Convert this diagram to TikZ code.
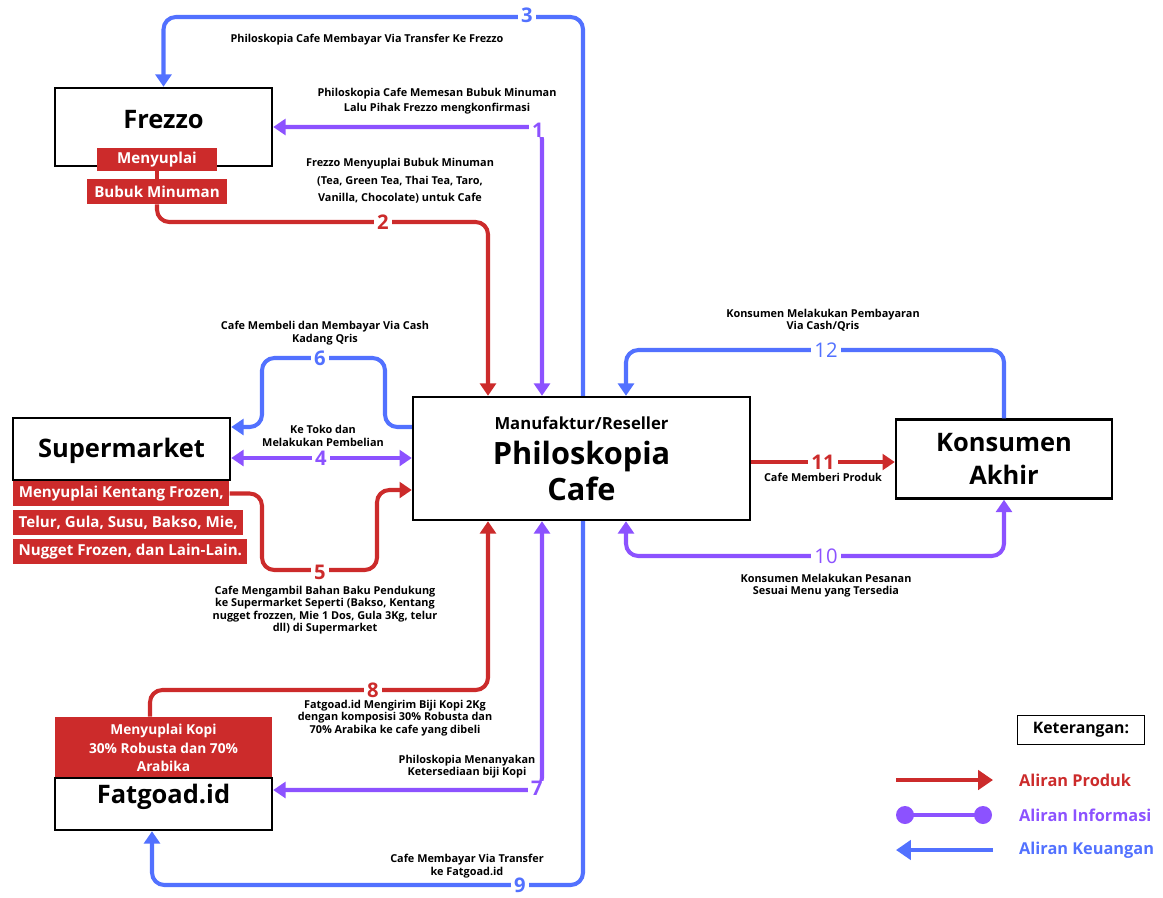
\documentclass[tikz,border=0pt]{standalone}
\usepackage{fontspec}
\setmainfont{Open Sans}
\usetikzlibrary{arrows.meta}

\definecolor{produk}{HTML}{CC2B2B}
\definecolor{info}{HTML}{8C52FF}
\definecolor{uang}{HTML}{5271FF}

\begin{document}
\begin{tikzpicture}[x=0.02cm, y=-0.02cm,
  box/.style={draw, line width=1.4pt, fill=white, inner sep=0pt},
  title/.style={font=\bfseries\fontsize{14.5}{19}\selectfont, align=center},
  tag/.style={fill=produk, text=white, font=\bfseries\fontsize{8.6}{10}\selectfont, inner sep=0pt},
  note/.style={font=\bfseries\fontsize{6.2}{7}\selectfont, align=center, inner sep=0pt},
  num/.style={font=\bfseries\fontsize{11.5}{12}\selectfont, fill=white, inner xsep=2pt, inner ysep=0pt},
  flow/.style={line width=2.3pt, rounded corners=7pt},
  prodline/.style={flow, produk, -{Triangle[width=9pt,length=7pt]}},
  infoline/.style={flow, info, {Triangle[width=9pt,length=7pt]}-{Triangle[width=9pt,length=7pt]}},
  uangline/.style={flow, uang, -{Triangle[width=9pt,length=7pt]}}]
\useasboundingbox (0,0) rectangle (1163,897);

% actors
\node (frezzo) [box, minimum width=4.34cm, minimum height=1.56cm] at (163.5,127) {};
\node [title] at (163.5,120) {Frezzo};
\node (frezzotag) [tag, minimum width=2.4cm, minimum height=0.46cm] at (157,159.5) {Menyuplai};
\node (bubuk) [tag, minimum width=2.82cm, minimum height=0.5cm] at (157,191.5) {Bubuk Minuman};
\draw [line width=2.3pt, produk] (frezzotag) -- (bubuk);

\node (supermarket) [box, minimum width=4.34cm, minimum height=1.24cm] at (121.5,449) {};
\node [title] at (121.5,451) {Supermarket};
\node (suptag1) [tag, anchor=west, minimum width=4.32cm, minimum height=0.5cm, inner xsep=3pt] at (13,493.5) {Menyuplai Kentang Frozen,};
\node (suptag2) [tag, anchor=west, minimum width=4.54cm, minimum height=0.5cm, inner xsep=3pt] at (13,522.5) {Telur, Gula, Susu, Bakso, Mie,};
\node (suptag3) [tag, anchor=west, minimum width=4.54cm, minimum height=0.5cm, inner xsep=3pt] at (13,551.5) {Nugget Frozen, dan Lain-Lain.};

\node (cafe) [box, minimum width=6.74cm, minimum height=2.46cm] at (581.5,458.5) {};
\node [font=\bfseries\fontsize{9.5}{11}\selectfont] at (581.5,423) {Manufaktur/Reseller};
\node [font=\bfseries\fontsize{17.5}{20.5}\selectfont, align=center] at (581.5,471) {Philoskopia\\Cafe};

\node (konsumen) [box, minimum width=4.32cm, minimum height=1.58cm, title] at (1004,459) {Konsumen\\Akhir};

\node (fatred) [fill=produk, minimum width=4.34cm, minimum height=1.22cm, inner sep=0pt] at (163.5,747.5) {};
\node [text=white, font=\bfseries\fontsize{7.8}{10.5}\selectfont, align=center] at (163.5,748) {Menyuplai Kopi\\30\% Robusta dan 70\%\\Arabika};
\node (fatgoad) [box, minimum width=4.34cm, minimum height=1.04cm] at (163.5,804) {};
\node [title] at (163.5,797) {Fatgoad.id};

% corners
\coordinate (k1) at (542,127);
\coordinate (k2) at (488,222);
\coordinate (k3) at (583,17);
\coordinate (k4) at (0,458);
\coordinate (k5l) at (262,570);
\coordinate (k5r) at (377,490);
\coordinate (k6r) at (385,358);
\coordinate (k6l) at (262,427);
\coordinate (k7) at (542,790);
\coordinate (k8) at (488,690);
\coordinate (k9) at (583,885);
\coordinate (k10) at (626,556);
\coordinate (k12) at (626,350);

% flows
\draw [infoline] (frezzo.east |- k1) -- (k1) -- (cafe.north -| k1);
\draw [prodline] (bubuk.south) |- (k2) -- (cafe.north -| k2);
\draw [uangline] (cafe.north -| k3) -- (k3) -| (frezzo.north);
\draw [infoline] (supermarket.east |- k4) -- (cafe.west |- k4);
\draw [prodline] (suptag1.east) -| (k5l) -| (k5r) -- (cafe.west |- k5r);
\draw [uangline] (cafe.west |- k6l) -| (k6r) -| (k6l) -- (supermarket.east |- k6l);
\draw [infoline] (fatgoad.east |- k7) -- (k7) -- (cafe.south -| k7);
\draw [prodline] ([xshift=-0.27cm]fatred.north) |- (k8) -- (cafe.south -| k8);
\draw [uangline] (cafe.south -| k9) -- (k9) -| ([xshift=-0.23cm]fatgoad.south);
\draw [infoline] (cafe.south -| k10) -- (k10) -| (konsumen.south);
\draw [prodline] (cafe.east |- 0,462) -- (konsumen.west |- 0,462);
\draw [uangline] (konsumen.north) |- (k12) -- (cafe.north -| k12);

% numbers
\node [num, text=info] at (538,130) {1};
\node [num, text=produk] at (383,222) {2};
\node [num, text=uang] at (527,15) {3};
\node [num, text=info] at (321,458) {4};
\node [num, text=produk] at (320,572) {5};
\node [num, text=uang] at (320,358) {6};
\node [num, text=info] at (537,788) {7};
\node [num, text=produk] at (373,690) {8};
\node [num, text=uang] at (520,885) {9};
\node [num, text=info, font=\fontsize{11.5}{12}\selectfont] at (826,556) {10};
\node [num, text=produk] at (823,462) {11};
\node [num, text=uang, font=\fontsize{11.5}{12}\selectfont] at (826,350) {12};

% notes
\node [note] at (367,40) {Philoskopia Cafe Membayar Via Transfer Ke Frezzo};
\node [note, font=\bfseries\fontsize{6.2}{8.5}\selectfont] at (437,101) {Philoskopia Cafe Memesan Bubuk Minuman\\Lalu Pihak Frezzo mengkonfirmasi};
\node [note, font=\bfseries\fontsize{6.2}{10}\selectfont] at (400,181) {Frezzo Menyuplai Bubuk Minuman\\(Tea, Green Tea, Thai Tea, Taro,\\Vanilla, Chocolate) untuk Cafe};
\node [note] at (325,333) {Cafe Membeli dan Membayar Via Cash\\Kadang Qris};
\node [note] at (323,436) {Ke Toko dan\\Melakukan Pembelian};
\node [note] at (325,610) {Cafe Mengambil Bahan Baku Pendukung\\ke Supermarket Seperti (Bakso, Kentang\\nugget frozzen, Mie 1 Dos, Gula 3Kg, telur\\dll) di Supermarket};
\node [note] at (395,718) {Fatgoad.id Mengirim Biji Kopi 2Kg\\dengan komposisi 30\% Robusta dan\\70\% Arabika ke cafe yang dibeli};
\node [note] at (467,767) {Philoskopia Menanyakan\\Ketersediaan biji Kopi};
\node [note] at (467,866) {Cafe Membayar Via Transfer\\ke Fatgoad.id};
\node [note] at (823,320) {Konsumen Melakukan Pembayaran\\Via Cash/Qris};
\node [note] at (823,477) {Cafe Memberi Produk};
\node [note] at (826,586) {Konsumen Melakukan Pesanan\\Sesuai Menu yang Tersedia};

% legend
\node (ket) [box, line width=1.1pt, minimum width=2.54cm, minimum height=0.58cm, font=\bfseries\fontsize{9}{10}\selectfont] at (1081,730) {Keterangan:};
\coordinate (lp1) at (896,780);
\coordinate (lp2) at (993,780);
\coordinate (li1) at (905,815);
\coordinate (li2) at (983,815);
\coordinate (lu1) at (993,850);
\coordinate (lu2) at (896,850);
\draw [line width=2.3pt, produk, -{Triangle[width=11pt,length=8.5pt]}] (lp1) -- (lp2);
\draw [line width=2.3pt, info] (li1) -- (li2);
\fill [info] (li1) circle (9) (li2) circle (9);
\draw [line width=2.3pt, uang, -{Triangle[width=11pt,length=8.5pt]}] (lu1) -- (lu2);
\node [anchor=west, text=produk, font=\bfseries\fontsize{9.3}{10}\selectfont] at (1013,780) {Aliran Produk};
\node [anchor=west, text=info, font=\bfseries\fontsize{9.3}{10}\selectfont] at (1013,815) {Aliran Informasi};
\node [anchor=west, text=uang, font=\bfseries\fontsize{9.3}{10}\selectfont] at (1013,850) {Aliran Keuangan};
\end{tikzpicture}
\end{document}
